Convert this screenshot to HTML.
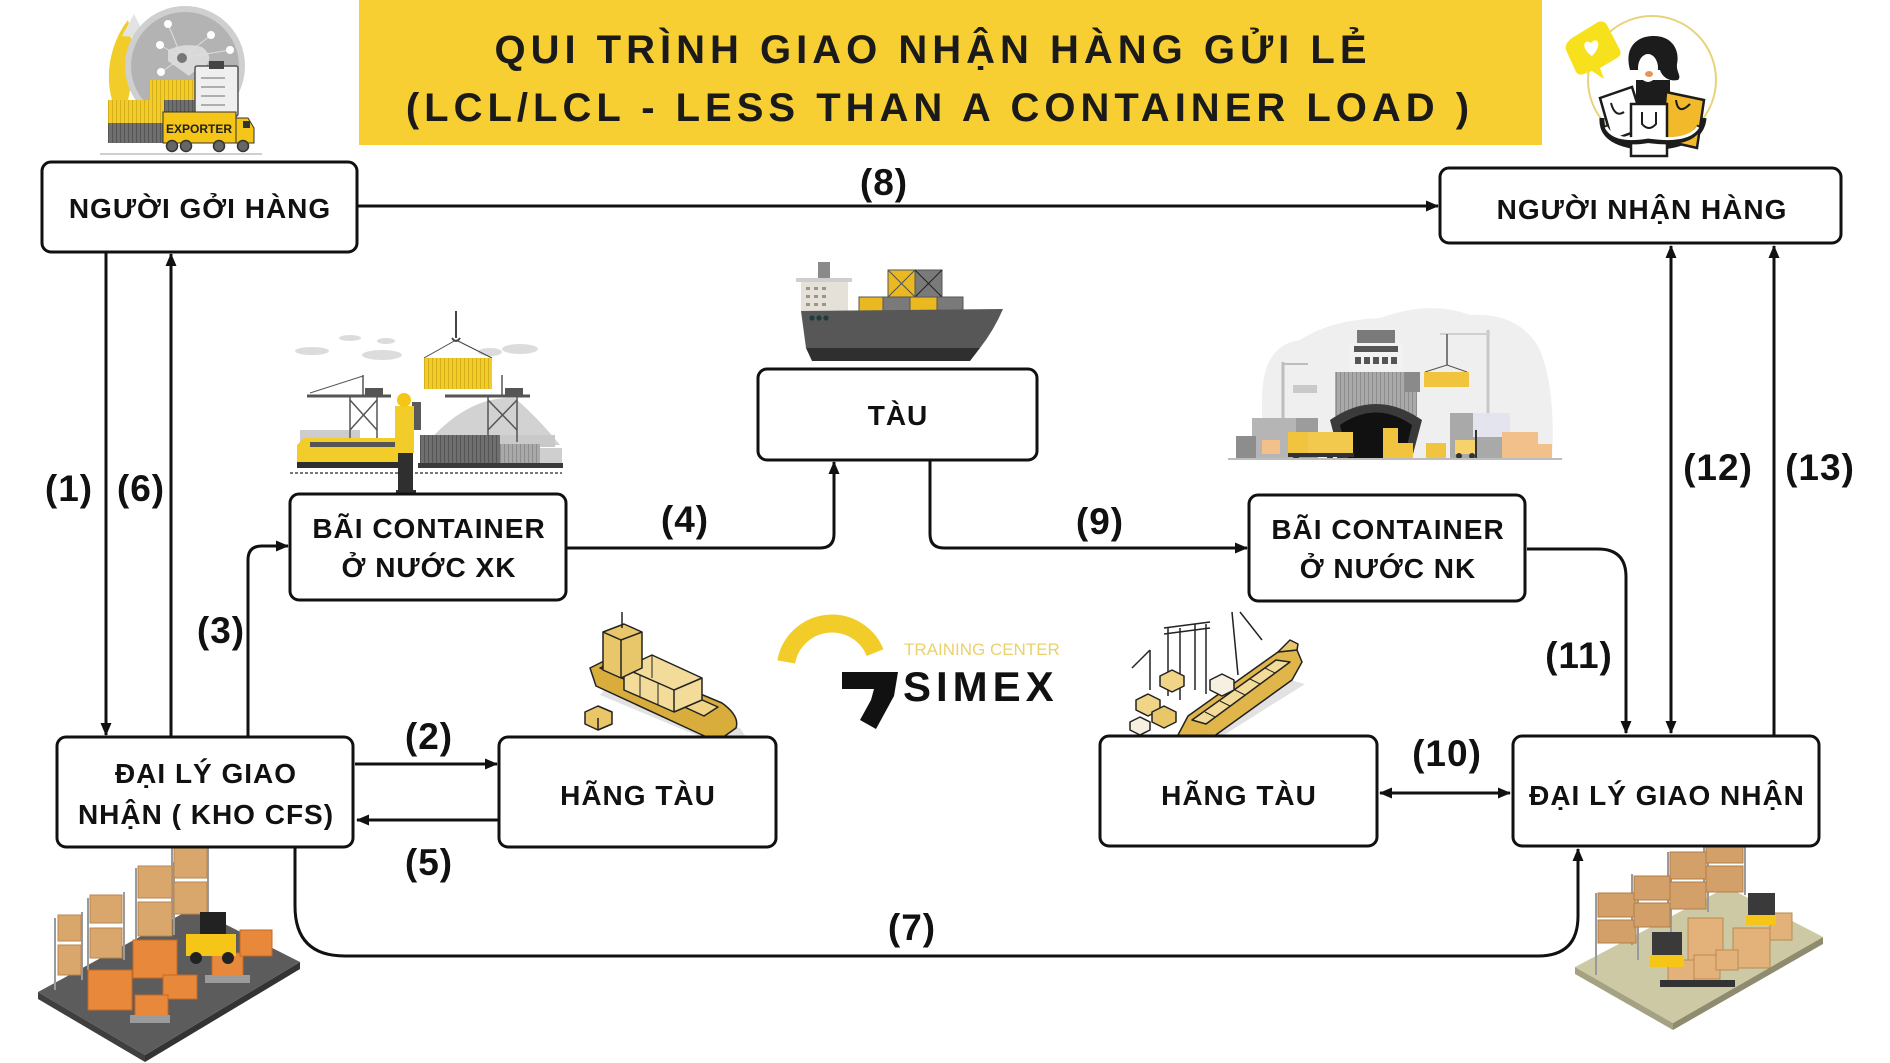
<!DOCTYPE html>
<html>
<head>
<meta charset="utf-8">
<style>
  html, body { margin:0; padding:0; background:#ffffff; }
  body { width:1890px; height:1063px; overflow:hidden; }
  svg { display:block; }
  .bx { fill:#ffffff; stroke:#111; stroke-width:3; }
  .bt { font-family:"Liberation Sans", "Noto Sans CJK SC", sans-serif; font-weight:bold; font-size:28px; fill:#111; letter-spacing:1px; }
  .lb { font-family:"Liberation Sans", "Noto Sans CJK SC", sans-serif; font-weight:bold; font-size:37px; fill:#111; letter-spacing:1px; }
  .ttl { font-family:"Liberation Sans", "Noto Sans CJK SC", sans-serif; font-weight:bold; font-size:40px; fill:#1a1a1a; letter-spacing:5px; }
  .ln { fill:none; stroke:#111; stroke-width:3; }
</style>
</head>
<body>
<svg width="1890" height="1063" viewBox="0 0 1890 1063" xmlns="http://www.w3.org/2000/svg">
  <defs>
    <marker id="ah" viewBox="0 0 13 11" refX="12" refY="5.5" markerWidth="13" markerHeight="11" markerUnits="userSpaceOnUse" orient="auto-start-reverse">
      <path d="M0,0 L13,5.5 L0,11 z" fill="#111"/>
    </marker>
    <pattern id="ys" width="4" height="10" patternUnits="userSpaceOnUse">
      <rect width="4" height="10" fill="#f2cd2a"/><rect width="1" height="10" fill="#d6b01a"/>
    </pattern>
    <pattern id="gs" width="4" height="10" patternUnits="userSpaceOnUse">
      <rect width="4" height="10" fill="#6f6f6f"/><rect width="1" height="10" fill="#555"/>
    </pattern>
    <pattern id="ls" width="4" height="10" patternUnits="userSpaceOnUse">
      <rect width="4" height="10" fill="#a9a9a9"/><rect width="1" height="10" fill="#8d8d8d"/>
    </pattern>
  </defs>

  <!-- Title banner -->
  <rect x="359" y="0" width="1183" height="145" fill="#f8cf33"/>
  <text class="ttl" x="933" y="63" text-anchor="middle">QUI TRÌNH GIAO NHẬN HÀNG GỬI LẺ</text>
  <text class="ttl" x="940" y="121" text-anchor="middle">(LCL/LCL - LESS THAN A CONTAINER LOAD )</text>

  <!-- Exporter illustration -->
  <g>
    <path d="M112 100 C104 72 112 40 128 20 C134 44 134 76 128 100 Z" fill="#f2cd2a"/>
    <path d="M122 36 L134 14 L146 38 Z" fill="#e3e3e3"/>
    <circle cx="185" cy="66" r="60" fill="#cfcfcf"/>
    <circle cx="185" cy="66" r="54" fill="#b3b3b3"/>
    <path d="M168 50 Q185 42 202 47 Q214 56 206 66 Q196 69 189 76 Q178 68 168 61 Z" fill="#d9d9d9"/>
    <g stroke="#dedede" stroke-width="1">
      <line x1="182" y1="58" x2="168" y2="24"/><line x1="182" y1="58" x2="211" y2="35"/>
      <line x1="182" y1="58" x2="230" y2="50"/><line x1="182" y1="58" x2="160" y2="45"/>
      <line x1="182" y1="58" x2="161" y2="72"/>
    </g>
    <g fill="#ffffff">
      <circle cx="168" cy="24" r="4"/><circle cx="211" cy="35" r="4"/><circle cx="230" cy="50" r="4"/>
      <circle cx="160" cy="45" r="4"/><circle cx="161" cy="72" r="4"/>
    </g>
    <circle cx="182" cy="58" r="5" fill="#777"/>
    <rect x="150" y="80" width="46" height="22" fill="url(#ys)"/>
    <rect x="150" y="100" width="50" height="22" fill="url(#gs)"/>
    <rect x="108" y="100" width="56" height="24" fill="url(#ys)"/>
    <rect x="108" y="123" width="62" height="20" fill="url(#gs)"/>
    <rect x="195" y="66" width="43" height="50" rx="2" fill="#efefef" stroke="#555" stroke-width="1.5"/>
    <rect x="209" y="61" width="15" height="8" fill="#444"/>
    <g stroke="#999" stroke-width="1.5">
      <line x1="201" y1="78" x2="225" y2="78"/><line x1="201" y1="87" x2="225" y2="87"/>
      <line x1="201" y1="96" x2="225" y2="96"/><line x1="201" y1="105" x2="225" y2="105"/>
    </g>
    <rect x="163" y="112" width="73" height="31" fill="#f5c518" stroke="#333" stroke-width="1"/>
    <text x="199" y="133" text-anchor="middle" font-family="'Liberation Sans', sans-serif" font-weight="bold" font-size="12" fill="#222">EXPORTER</text>
    <path d="M236 118 H248 L254 128 V143 H236 Z" fill="#f5c518" stroke="#333" stroke-width="1"/>
    <rect x="243" y="121" width="7" height="7" fill="#333"/>
    <g fill="#666" stroke="#333" stroke-width="1.5">
      <circle cx="172" cy="146" r="5.5"/><circle cx="186" cy="146" r="5.5"/>
      <circle cx="219" cy="146" r="5.5"/><circle cx="243" cy="146" r="5.5"/>
    </g>
    <line x1="100" y1="154" x2="262" y2="154" stroke="#cfcfcf" stroke-width="2"/>
  </g>

  <!-- Person with bags (top right) -->
  <g>
    <circle cx="1652" cy="80" r="64" fill="none" stroke="#e9d27a" stroke-width="2"/>
    <path d="M1572 38 L1598 22 Q1604 20 1607 25 L1620 50 Q1622 55 1617 58 L1600 68 L1604 79 L1592 71 L1584 74 Q1579 76 1576 72 L1566 50 Q1564 44 1572 38 Z" fill="#f7e11c"/>
    <path d="M1592 56 C1580 48 1584 38 1591 43 C1596 36 1604 44 1592 56 Z" fill="#fff"/>
    <rect x="1636" y="80" width="34" height="32" fill="#1c1c1c"/>
    <path d="M1630 70 C1624 48 1636 36 1654 36 C1672 36 1680 50 1677 64 C1676 72 1682 76 1678 80 C1668 82 1662 76 1660 70 Z" fill="#1c1c1c"/>
    <ellipse cx="1648" cy="68" rx="10" ry="14" fill="#fff"/>
    <ellipse cx="1649" cy="74" rx="4" ry="3" fill="#e8935a"/>
    <path d="M1602 118 Q1600 146 1650 148 Q1702 146 1704 118" fill="none" stroke="#1c1c1c" stroke-width="5"/>
    <polygon points="1600,98 1632,87 1645,128 1612,140" fill="#fff" stroke="#1c1c1c" stroke-width="2.5"/>
    <path d="M1611 103 Q1615 118 1624 112" fill="none" stroke="#1c1c1c" stroke-width="2"/>
    <polygon points="1666,92 1704,100 1697,148 1662,140" fill="#f2b92b" stroke="#1c1c1c" stroke-width="2.5"/>
    <path d="M1676 100 Q1678 116 1690 104" fill="none" stroke="#1c1c1c" stroke-width="2"/>
    <rect x="1631" y="104" width="36" height="52" fill="#fff" stroke="#1c1c1c" stroke-width="2.5"/>
    <path d="M1642 112 V124 Q1649 132 1656 124 V112" fill="none" stroke="#1c1c1c" stroke-width="2"/>
    <path d="M1604 126 Q1612 146 1648 140 Q1690 146 1700 126" fill="none" stroke="#1c1c1c" stroke-width="6"/>
    <path d="M1606 127 Q1614 143 1648 137 Q1688 143 1698 127" fill="none" stroke="#fff" stroke-width="3"/>
  </g>

  <!-- Ship above TÀU -->
  <g>
    <rect x="818" y="262" width="12" height="17" fill="#8a8a8a"/>
    <rect x="796" y="278" width="56" height="4" fill="#cfcfcf"/>
    <rect x="801" y="282" width="47" height="30" fill="#e6e1d8"/>
    <g fill="#9a948a">
      <rect x="806" y="287" width="4" height="3"/><rect x="814" y="287" width="4" height="3"/><rect x="822" y="287" width="4" height="3"/>
      <rect x="806" y="295" width="4" height="3"/><rect x="814" y="295" width="4" height="3"/><rect x="822" y="295" width="4" height="3"/>
      <rect x="806" y="303" width="4" height="3"/><rect x="814" y="303" width="4" height="3"/><rect x="822" y="303" width="4" height="3"/>
    </g>
    <g stroke="#555" stroke-width="1">
      <rect x="888" y="270" width="27" height="27" fill="#eab820"/>
      <line x1="888" y1="270" x2="915" y2="297"/><line x1="915" y1="270" x2="888" y2="297"/>
      <rect x="915" y="270" width="27" height="27" fill="#7a7a7a"/>
      <line x1="915" y1="270" x2="942" y2="297" stroke="#222"/><line x1="942" y1="270" x2="915" y2="297" stroke="#222"/>
      <rect x="859" y="297" width="24" height="15" fill="#eab820"/>
      <rect x="883" y="297" width="27" height="15" fill="#7a7a7a"/>
      <rect x="910" y="297" width="27" height="15" fill="#eab820"/>
      <rect x="937" y="297" width="26" height="15" fill="#7a7a7a"/>
    </g>
    <path d="M801 311 L1003 309 Q994 330 980 348 L806 348 Z" fill="#575757"/>
    <path d="M806 348 L980 348 L970 361 L812 361 Z" fill="#2f2f2f"/>
    <g fill="#1e3c3c"><circle cx="812" cy="318" r="2.6"/><circle cx="819" cy="318" r="2.6"/><circle cx="826" cy="318" r="2.6"/></g>
  </g>

  <!-- Port XK illustration -->
  <g>
    <g fill="#dcdcdc">
      <ellipse cx="312" cy="351" rx="17" ry="4"/><ellipse cx="382" cy="355" rx="20" ry="5"/>
      <ellipse cx="520" cy="349" rx="18" ry="5"/><ellipse cx="350" cy="338" rx="11" ry="3"/>
      <ellipse cx="386" cy="341" rx="9" ry="3"/><ellipse cx="490" cy="352" rx="12" ry="4"/>
    </g>
    <path d="M425 445 Q468 395 515 398 Q540 420 560 445 Z" fill="#d2d2d2"/>
    <rect x="300" y="430" width="60" height="12" fill="#cdcdcd"/>
    <rect x="500" y="435" width="55" height="12" fill="#c9c9c9"/>
    <line x1="456" y1="311" x2="456" y2="338" stroke="#444" stroke-width="2"/>
    <path d="M452 338 Q456 344 460 338" fill="none" stroke="#444" stroke-width="2"/>
    <line x1="456" y1="340" x2="424" y2="358" stroke="#444" stroke-width="1"/>
    <line x1="456" y1="340" x2="492" y2="358" stroke="#444" stroke-width="1"/>
    <rect x="424" y="358" width="68" height="31" fill="url(#ys)"/>
    <g stroke="#555" stroke-width="1.5" fill="none">
      <line x1="307" y1="396" x2="391" y2="396" stroke-width="3"/>
      <line x1="350" y1="396" x2="350" y2="442"/><line x1="377" y1="396" x2="377" y2="442"/>
      <line x1="350" y1="400" x2="377" y2="430"/><line x1="377" y1="400" x2="350" y2="430"/>
      <line x1="363" y1="396" x2="363" y2="375"/><line x1="363" y1="376" x2="310" y2="393" stroke-width="1"/>
      <line x1="445" y1="396" x2="530" y2="396" stroke-width="3"/>
      <line x1="488" y1="396" x2="488" y2="442"/><line x1="517" y1="396" x2="517" y2="442"/>
      <line x1="488" y1="400" x2="517" y2="430"/><line x1="517" y1="400" x2="488" y2="430"/>
      <line x1="502" y1="396" x2="502" y2="375"/>
    </g>
    <rect x="365" y="388" width="18" height="7" fill="#555"/>
    <rect x="505" y="388" width="18" height="7" fill="#555"/>
    <path d="M297 445 L304 438 H400 V463 H297 Z" fill="#f2cd2a"/>
    <rect x="310" y="442" width="85" height="5" fill="#555"/>
    <rect x="297" y="462" width="104" height="6" fill="#2e2e2e"/>
    <rect x="420" y="435" width="80" height="28" fill="url(#gs)"/>
    <rect x="500" y="444" width="40" height="20" fill="url(#ls)"/>
    <rect x="540" y="448" width="22" height="16" fill="#cfcfcf"/>
    <rect x="418" y="463" width="145" height="5" fill="#3a3a3a"/>
    <line x1="290" y1="473" x2="562" y2="473" stroke="#777" stroke-width="2" stroke-dasharray="3 2"/>
    <rect x="398" y="450" width="15" height="42" fill="#2f2f2f"/>
    <rect x="412" y="402" width="9" height="28" fill="#5a5a5a"/>
    <rect x="395" y="406" width="19" height="47" fill="#f2cd2a"/>
    <circle cx="404" cy="400" r="7" fill="#f5c518"/>
    <rect x="396" y="490" width="20" height="4" fill="#2f2f2f"/>
  </g>

  <!-- Port NK illustration -->
  <g>
    <path d="M1262 400 Q1262 345 1300 340 Q1330 320 1380 318 Q1430 300 1470 315 Q1520 312 1540 350 Q1556 390 1552 458 L1262 458 Z" fill="#efefef"/>
    <line x1="1283" y1="362" x2="1283" y2="418" stroke="#bdbdbd" stroke-width="3"/>
    <line x1="1283" y1="364" x2="1308" y2="364" stroke="#bdbdbd" stroke-width="2"/>
    <rect x="1293" y="385" width="24" height="8" fill="#c9c9c9"/>
    <line x1="1488" y1="330" x2="1488" y2="413" stroke="#c8c8c8" stroke-width="3"/>
    <line x1="1440" y1="334" x2="1490" y2="334" stroke="#d0d0d0" stroke-width="2"/>
    <line x1="1447" y1="334" x2="1447" y2="365" stroke="#555" stroke-width="1.5"/>
    <line x1="1447" y1="365" x2="1425" y2="372" stroke="#555" stroke-width="1"/>
    <line x1="1447" y1="365" x2="1467" y2="372" stroke="#555" stroke-width="1"/>
    <rect x="1424" y="372" width="45" height="15" fill="#f0c43e"/>
    <rect x="1357" y="330" width="38" height="13" fill="#7a7a7a"/>
    <rect x="1350" y="343" width="52" height="28" fill="#f2f2f2"/>
    <rect x="1354" y="346" width="44" height="6" fill="#555"/>
    <g fill="#555"><rect x="1355" y="357" width="6" height="7"/><rect x="1364" y="357" width="6" height="7"/><rect x="1373" y="357" width="6" height="7"/><rect x="1382" y="357" width="6" height="7"/><rect x="1391" y="357" width="6" height="7"/></g>
    <rect x="1335" y="372" width="82" height="44" fill="url(#ls)"/>
    <rect x="1405" y="372" width="15" height="20" fill="#8a8a8a"/>
    <path d="M1330 420 Q1376 388 1422 420 L1412 458 H1340 Z" fill="#3a3a3a"/>
    <path d="M1340 425 Q1376 400 1412 425 L1404 458 H1348 Z" fill="#111"/>
    <rect x="1252" y="418" width="65" height="40" fill="#b5b5b5"/>
    <rect x="1296" y="418" width="22" height="40" fill="#9c9c9c"/>
    <rect x="1236" y="436" width="20" height="22" fill="#8d8d8d"/>
    <rect x="1450" y="413" width="60" height="45" fill="#a9a9a9"/>
    <rect x="1473" y="413" width="37" height="24" fill="#e4e4ee"/>
    <rect x="1288" y="432" width="22" height="24" fill="#f0c43e"/>
    <rect x="1308" y="432" width="45" height="22" fill="#f2c94c"/>
    <rect x="1288" y="453" width="66" height="4" fill="#333"/>
    <g fill="#333"><circle cx="1296" cy="457" r="3"/><circle cx="1330" cy="457" r="3"/><circle cx="1340" cy="457" r="3"/></g>
    <rect x="1383" y="428" width="15" height="15" fill="#f0c43e"/>
    <rect x="1383" y="443" width="30" height="15" fill="#f0c43e"/>
    <rect x="1426" y="443" width="20" height="15" fill="#f0c43e"/>
    <rect x="1455" y="440" width="22" height="14" fill="#f5d36a"/>
    <line x1="1476" y1="430" x2="1476" y2="458" stroke="#333" stroke-width="2"/>
    <g fill="#333"><circle cx="1459" cy="456" r="3"/><circle cx="1472" cy="456" r="3"/></g>
    <rect x="1502" y="432" width="36" height="26" fill="#f2c08a"/>
    <rect x="1538" y="444" width="14" height="14" fill="#f2c08a"/>
    <rect x="1262" y="440" width="18" height="14" fill="#f2c08a"/>
    <line x1="1228" y1="459" x2="1562" y2="459" stroke="#bdbdbd" stroke-width="2"/>
  </g>

  <!-- Isometric ship left (above HÃNG TÀU) -->
  <g stroke="#222" stroke-width="1.5" stroke-linejoin="round">
    <polygon points="600,695 720,745 748,740 740,728 610,684" fill="#e2e2e2" stroke="none"/>
    <path d="M590 668 L612 657 L722 703 Q740 716 736 728 L722 738 Q712 740 700 734 L596 686 Z" fill="#d9ad3c"/>
    <polygon points="600,668 614,661 718,707 704,716" fill="#f0d488"/>
    <polygon points="624,668 652,655 702,678 702,700 674,712 624,690" fill="#f3dc9a"/>
    <line x1="652" y1="655" x2="652" y2="678" stroke-width="1"/>
    <line x1="624" y1="668" x2="674" y2="690"/><line x1="674" y1="690" x2="702" y2="678"/>
    <line x1="674" y1="690" x2="674" y2="712"/>
    <line x1="640" y1="675" x2="640" y2="697" stroke-width="1"/>
    <line x1="658" y1="683" x2="658" y2="705" stroke-width="1"/>
    <polygon points="603,632 624,624 642,632 642,668 621,678 603,670" fill="#e8c66a"/>
    <line x1="621" y1="640" x2="621" y2="678"/>
    <line x1="603" y1="632" x2="621" y2="640"/><line x1="621" y1="640" x2="642" y2="632"/>
    <line x1="622" y1="612" x2="622" y2="628"/>
    <polygon points="585,712 598,706 612,712 612,724 598,730 585,724" fill="#e9c66a"/>
    <line x1="598" y1="718" x2="598" y2="730"/>
  </g>

  <!-- SIMEX logo -->
  <g>
    <path d="M786.2 661.9 A46.5 46.5 0 0 1 875.1 652.6" fill="none" stroke="#f2cd2a" stroke-width="18"/>
    <text x="904" y="655" font-family="'Liberation Sans', sans-serif" font-size="17" fill="#ebd16a">TRAINING CENTER</text>
    <polygon points="842,672 898,672 894,696 876,729 860,720 871,700 874,689 842,689" fill="#111"/>
    <text x="903" y="701" font-family="'Liberation Sans', sans-serif" font-weight="bold" font-size="42" letter-spacing="5" fill="#111">SIMEX</text>
  </g>

  <!-- Isometric port right (above right HÃNG TÀU) -->
  <g stroke="#222" stroke-width="1.5" stroke-linejoin="round" fill="none">
    <polygon points="1185,745 1290,680 1305,684 1200,750" fill="#e2e2e2" stroke="none"/>
    <line x1="1168" y1="628" x2="1168" y2="696"/><line x1="1180" y1="628" x2="1180" y2="700"/>
    <line x1="1195" y1="624" x2="1195" y2="690"/><line x1="1206" y1="624" x2="1206" y2="694"/>
    <line x1="1164" y1="628" x2="1210" y2="622"/><line x1="1164" y1="634" x2="1210" y2="628"/>
    <line x1="1232" y1="612" x2="1238" y2="675"/><line x1="1240" y1="612" x2="1262" y2="640"/>
    <line x1="1150" y1="650" x2="1150" y2="690"/><line x1="1150" y1="650" x2="1132" y2="668"/>
    <path d="M1178 735 L1188 716 L1278 652 L1297 650 L1302 662 L1292 680 L1206 742 L1190 745 Z" fill="#e0b54a"/>
    <polygon points="1192,720 1276,660 1290,662 1206,724" fill="#f3dc9a"/>
    <line x1="1205" y1="712" x2="1215" y2="717" stroke-width="1"/><line x1="1220" y1="701" x2="1230" y2="706" stroke-width="1"/>
    <line x1="1235" y1="690" x2="1245" y2="695" stroke-width="1"/><line x1="1250" y1="679" x2="1260" y2="684" stroke-width="1"/>
    <line x1="1265" y1="668" x2="1275" y2="673" stroke-width="1"/>
    <polygon points="1278,652 1290,640 1298,644 1297,650" fill="#e8c66a"/>
    <polygon points="1136,700 1148,694 1160,700 1160,710 1148,716 1136,710" fill="#f0d488"/>
    <polygon points="1152,712 1164,706 1176,712 1176,722 1164,728 1152,722" fill="#e9c66a"/>
    <polygon points="1130,722 1140,717 1150,722 1150,730 1140,735 1130,730" fill="#f5f0e0"/>
    <polygon points="1160,676 1172,670 1184,676 1184,686 1172,692 1160,686" fill="#f0d488"/>
    <polygon points="1210,680 1222,674 1234,680 1234,690 1222,696 1210,690" fill="#f5f0e0"/>
  </g>

  <!-- Warehouse bottom left -->
  <g>
    <polygon points="38,992 145,1055 145,1062 38,999" fill="#3f3f3f"/>
    <polygon points="145,1055 300,962 300,969 145,1062" fill="#333"/>
    <polygon points="38,992 145,1055 300,962 193,908" fill="#5c5c5c"/>
    <g stroke="#9a9a9a" stroke-width="2">
      <line x1="55" y1="918" x2="55" y2="990"/><line x1="82" y1="912" x2="82" y2="980"/>
      <line x1="88" y1="898" x2="88" y2="970"/><line x1="124" y1="892" x2="124" y2="960"/>
      <line x1="136" y1="868" x2="136" y2="945"/><line x1="174" y1="862" x2="174" y2="935"/>
      <line x1="172" y1="848" x2="172" y2="918"/><line x1="208" y1="844" x2="208" y2="912"/>
    </g>
    <g fill="#d9a66b" stroke="#b88650" stroke-width="1">
      <rect x="58" y="915" width="23" height="26"/><rect x="58" y="945" width="23" height="30"/>
      <rect x="90" y="895" width="32" height="28"/><rect x="90" y="928" width="32" height="30"/>
      <rect x="138" y="866" width="34" height="32"/><rect x="138" y="902" width="34" height="34"/>
      <rect x="174" y="846" width="33" height="32"/><rect x="174" y="882" width="33" height="32"/>
    </g>
    <g fill="#e8883a" stroke="#c26a26" stroke-width="1">
      <rect x="88" y="970" width="44" height="40"/><rect x="133" y="940" width="44" height="38"/>
      <rect x="163" y="975" width="34" height="24"/><rect x="135" y="995" width="33" height="22"/>
      <rect x="212" y="953" width="31" height="23"/><rect x="240" y="930" width="32" height="26"/>
    </g>
    <rect x="130" y="1015" width="40" height="8" fill="#9b9b9b"/>
    <rect x="205" y="975" width="45" height="8" fill="#9b9b9b"/>
    <rect x="200" y="912" width="26" height="26" fill="#222"/>
    <rect x="186" y="934" width="50" height="22" fill="#f5c518"/>
    <circle cx="196" cy="958" r="6" fill="#222"/><circle cx="228" cy="958" r="6" fill="#222"/>
  </g>

  <!-- Warehouse bottom right -->
  <g>
    <polygon points="1575,967 1673,1023 1673,1030 1575,974" fill="#a5a183"/>
    <polygon points="1673,1023 1823,937 1823,944 1673,1030" fill="#8f8b6e"/>
    <polygon points="1575,967 1673,1023 1823,937 1727,887" fill="#cdc9a5"/>
    <g stroke="#9a9a9a" stroke-width="2">
      <line x1="1596" y1="893" x2="1596" y2="975"/><line x1="1638" y1="887" x2="1638" y2="960"/>
      <line x1="1632" y1="874" x2="1632" y2="945"/><line x1="1671" y1="866" x2="1671" y2="935"/>
      <line x1="1668" y1="852" x2="1668" y2="925"/><line x1="1708" y1="846" x2="1708" y2="912"/>
      <line x1="1704" y1="836" x2="1704" y2="905"/><line x1="1745" y1="834" x2="1745" y2="895"/>
    </g>
    <g fill="#d4a06a" stroke="#b07e48" stroke-width="1">
      <rect x="1598" y="893" width="38" height="24"/><rect x="1598" y="920" width="38" height="23"/>
      <rect x="1634" y="876" width="36" height="24"/><rect x="1634" y="903" width="36" height="24"/>
      <rect x="1670" y="852" width="36" height="27"/><rect x="1670" y="882" width="36" height="27"/>
      <rect x="1706" y="837" width="37" height="26"/><rect x="1706" y="866" width="37" height="26"/>
    </g>
    <g fill="#e2b27a" stroke="#b98a52" stroke-width="1">
      <rect x="1688" y="918" width="35" height="44"/><rect x="1733" y="928" width="37" height="40"/>
      <rect x="1770" y="913" width="22" height="27"/>
      <rect x="1668" y="960" width="26" height="22"/><rect x="1694" y="955" width="26" height="24"/>
      <rect x="1716" y="950" width="22" height="20"/>
    </g>
    <rect x="1660" y="980" width="75" height="7" fill="#333"/>
    <rect x="1748" y="893" width="27" height="24" fill="#3a3a3a"/>
    <rect x="1746" y="915" width="30" height="10" fill="#f5c518"/>
    <rect x="1652" y="932" width="30" height="25" fill="#3a3a3a"/>
    <rect x="1650" y="955" width="34" height="12" fill="#f5c518"/>
  </g>

  <!-- Connectors -->
  <path class="ln" d="M357 206 H1438" marker-end="url(#ah)"/>
  <path class="ln" d="M106 253 V735" marker-end="url(#ah)"/>
  <path class="ln" d="M171 737 V254" marker-end="url(#ah)"/>
  <path class="ln" d="M248 737 V560 Q248 546 262 546 H288" marker-end="url(#ah)"/>
  <path class="ln" d="M355 764 H497" marker-end="url(#ah)"/>
  <path class="ln" d="M499 820 H357" marker-end="url(#ah)"/>
  <path class="ln" d="M567 548 H820 Q834 548 834 534 V462" marker-end="url(#ah)"/>
  <path class="ln" d="M930 461 V534 Q930 548 944 548 H1247" marker-end="url(#ah)"/>
  <path class="ln" d="M1527 549 H1598 Q1626 549 1626 577 V733" marker-end="url(#ah)"/>
  <path class="ln" d="M1671 733 V246" marker-start="url(#ah)" marker-end="url(#ah)"/>
  <path class="ln" d="M1774 735 V246" marker-end="url(#ah)"/>
  <path class="ln" d="M1380 793 H1510" marker-start="url(#ah)" marker-end="url(#ah)"/>
  <path class="ln" d="M295 848 V906 Q295 956 345 956 H1538 Q1578 956 1578 916 V849" marker-end="url(#ah)"/>

  <!-- Boxes -->
  <rect class="bx" x="42" y="162" width="315" height="90" rx="9"/>
  <text class="bt" x="200" y="218" text-anchor="middle">NGƯỜI GỞI HÀNG</text>

  <rect class="bx" x="1440" y="168" width="401" height="75" rx="9"/>
  <text class="bt" x="1642" y="219" text-anchor="middle">NGƯỜI NHẬN HÀNG</text>

  <rect class="bx" x="758" y="369" width="279" height="91" rx="9"/>
  <text class="bt" x="898" y="425" text-anchor="middle">TÀU</text>

  <rect class="bx" x="290" y="494" width="276" height="106" rx="9"/>
  <text class="bt" x="429" y="538" text-anchor="middle">BÃI CONTAINER</text>
  <text class="bt" x="429" y="577" text-anchor="middle">Ở NƯỚC XK</text>

  <rect class="bx" x="1249" y="495" width="276" height="106" rx="9"/>
  <text class="bt" x="1388" y="539" text-anchor="middle">BÃI CONTAINER</text>
  <text class="bt" x="1388" y="578" text-anchor="middle">Ở NƯỚC NK</text>

  <rect class="bx" x="57" y="737" width="296" height="110" rx="9"/>
  <text class="bt" x="206" y="783" text-anchor="middle">ĐẠI LÝ GIAO</text>
  <text class="bt" x="206" y="824" text-anchor="middle">NHẬN ( KHO CFS)</text>

  <rect class="bx" x="499" y="737" width="277" height="110" rx="9"/>
  <text class="bt" x="638" y="805" text-anchor="middle">HÃNG TÀU</text>

  <rect class="bx" x="1100" y="736" width="277" height="110" rx="9"/>
  <text class="bt" x="1239" y="805" text-anchor="middle">HÃNG TÀU</text>

  <rect class="bx" x="1513" y="736" width="306" height="110" rx="9"/>
  <text class="bt" x="1667" y="805" text-anchor="middle">ĐẠI LÝ GIAO NHẬN</text>

  <!-- Labels -->
  <text class="lb" x="884" y="195" text-anchor="middle">(8)</text>
  <text class="lb" x="69" y="501" text-anchor="middle">(1)</text>
  <text class="lb" x="141" y="501" text-anchor="middle">(6)</text>
  <text class="lb" x="221" y="643" text-anchor="middle">(3)</text>
  <text class="lb" x="429" y="749" text-anchor="middle">(2)</text>
  <text class="lb" x="429" y="875" text-anchor="middle">(5)</text>
  <text class="lb" x="912" y="940" text-anchor="middle">(7)</text>
  <text class="lb" x="685" y="532" text-anchor="middle">(4)</text>
  <text class="lb" x="1100" y="534" text-anchor="middle">(9)</text>
  <text class="lb" x="1579" y="668" text-anchor="middle">(11)</text>
  <text class="lb" x="1447" y="766" text-anchor="middle">(10)</text>
  <text class="lb" x="1718" y="480" text-anchor="middle">(12)</text>
  <text class="lb" x="1820" y="480" text-anchor="middle">(13)</text>
</svg>
</body>
</html>
